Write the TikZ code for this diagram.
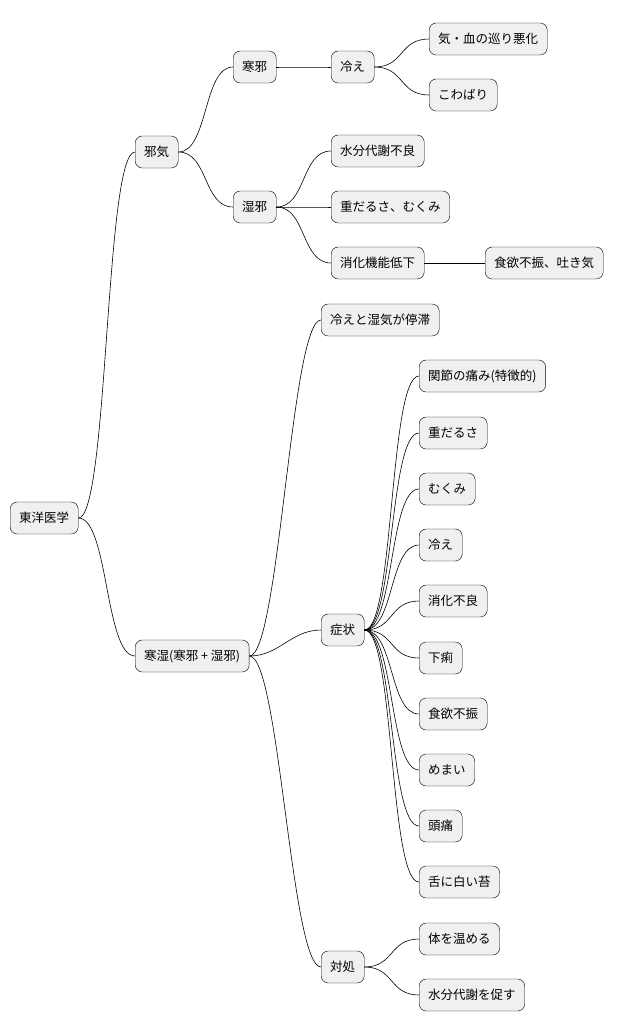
\documentclass[tikz,border=0pt]{standalone}
\usepackage{fontspec}
\setmainfont{Noto Sans CJK JP}
\begin{document}
\begin{tikzpicture}[x=1pt,y=-1pt,
  box/.style={draw=black,fill=black!6,rounded corners=7pt,anchor=west,minimum height=32pt,inner xsep=9pt,font=\fontsize{12.5}{14}\selectfont},
  link/.style={draw=black,line width=0.6pt}]
\useasboundingbox (0,0) rectangle (628,1034);
	\node[box] (root) at (10,518) {東洋医学};
	\node[box] (jaki) at (135,152) {邪気};
	\node[box] (kanshitsu) at (135,656) {寒湿(寒邪 + 湿邪)};
	\node[box] (kanja) at (233,67) {寒邪};
	\node[box] (shitsuja) at (233,207) {湿邪};
	\node[box] (hie) at (331,67) {冷え};
	\node[box] (kiketsu) at (429,39) {気・血の巡り悪化};
	\node[box] (kowabari) at (429,95) {こわばり};
	\node[box] (suibun) at (331,151) {水分代謝不良};
	\node[box] (omodaru) at (331,207) {重だるさ、むくみ};
	\node[box] (shoka) at (331,263) {消化機能低下};
	\node[box] (shokuyoku) at (485,263) {食欲不振、吐き気};
	\node[box] (teitai) at (321,320) {冷えと湿気が停滞};
	\node[box] (shojo) at (321,630) {症状};
	\node[box] (taisho) at (321,967) {対処};
	\node[box] (s1) at (419,376) {関節の痛み(特徴的)};
	\node[box] (s2) at (419,433) {重だるさ};
	\node[box] (s3) at (419,489) {むくみ};
	\node[box] (s4) at (419,545) {冷え};
	\node[box] (s5) at (419,601) {消化不良};
	\node[box] (s6) at (419,658) {下痢};
	\node[box] (s7) at (419,714) {食欲不振};
	\node[box] (s8) at (419,770) {めまい};
	\node[box] (s9) at (419,826) {頭痛};
	\node[box] (s10) at (419,882) {舌に白い苔};
	\node[box] (t1) at (419,939) {体を温める};
	\node[box] (t2) at (419,995) {水分代謝を促す};
	% connectors
	\foreach \p/\c in {root/jaki,root/kanshitsu,jaki/kanja,jaki/shitsuja,kanja/hie,hie/kiketsu,hie/kowabari,
	  shitsuja/suibun,shitsuja/omodaru,shitsuja/shoka,shoka/shokuyoku,kanshitsu/teitai,kanshitsu/shojo,kanshitsu/taisho,
	  shojo/s1,shojo/s2,shojo/s3,shojo/s4,shojo/s5,shojo/s6,shojo/s7,shojo/s8,shojo/s9,shojo/s10,taisho/t1,taisho/t2}
	  \draw[link] (\p.east) .. controls +(30,0) and +(-30,0) .. (\c.west);
\end{tikzpicture}
\end{document}
